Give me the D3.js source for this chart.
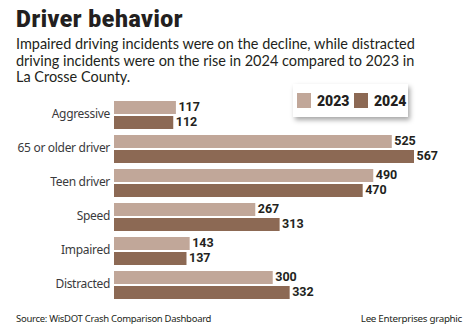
<!DOCTYPE html>
<html><head><meta charset="utf-8">
<script src="https://cdn.jsdelivr.net/npm/d3@7"></script>
<style>
body{margin:0;background:#fff;}
svg{display:block;}
</style></head>
<body>
<svg id="chart" width="471" height="330"></svg>
<script>
const categories = ["Aggressive","65 or older driver","Teen driver","Speed","Impaired","Distracted"];
const values2023 = [117,525,490,267,143,300];
const values2024 = [112,567,470,313,137,332];
const seriesNames = ["2023","2024"];
const colors = ["#c1a799","#8c6954"];

const svg = d3.select("#chart");
const ink = "#231f20";

// scale font-size of a selection so a reference node reaches target width
function fitSize(sel, refNode, target){
  const w = refNode.getComputedTextLength();
  const fs = parseFloat(d3.select(refNode).attr("font-size"));
  sel.attr("font-size", fs*target/w);
}

// Title
const title = svg.append("text").attr("x",16).attr("y",27)
  .attr("font-family","Roboto").attr("font-weight",900)
  .attr("font-size",23).attr("fill",ink).attr("letter-spacing",0)
  .text("Driver behavior");
{
  const w = title.node().getComputedTextLength();
  title.attr("letter-spacing",(167-w)/15);
}

const sub = ["Impaired driving incidents were on the decline, while distracted",
  "driving incidents were on the rise in 2024 compared to 2023 in",
  "La Crosse County."];
const subSel = svg.selectAll(".sub").data(sub).enter().append("text")
  .attr("class","sub").attr("x",16).attr("y",(d,i)=>49+i*16.7)
  .attr("font-family","Lato").attr("font-size",14).attr("fill",ink)
  .text(d=>d);
fitSize(subSel, subSel.nodes()[0], 399);

// scales
const x = d3.scaleLinear().domain([0,567]).range([114,414]);
const y = d3.scaleBand().domain(categories).range([101,305]).paddingInner(0).paddingOuter(0);
const barH = 13, gap = 2;

const g = svg.append("g");
const rows = g.selectAll(".row").data(categories).enter().append("g")
  .attr("transform",d=>`translate(0,${y(d)})`);

[values2023, values2024].forEach((vals, si)=>{
  rows.append("rect")
    .attr("x",x(0)).attr("y",si*(barH+gap))
    .attr("width",(d,i)=>x(vals[i])-x(0)).attr("height",barH)
    .attr("fill",colors[si]);
  rows.append("text")
    .attr("x",(d,i)=>x(vals[i])+2.5).attr("y",si*(barH+gap)+barH/2+0.5)
    .attr("dominant-baseline","middle")
    .attr("font-family","Liberation Sans Narrow, Roboto").attr("font-weight",700)
    .attr("font-size",12.5).attr("fill",ink)
    .text((d,i)=>vals[i]);
});

const catSel = rows.append("text")
  .attr("x",110).attr("y",barH+gap/2)
  .attr("text-anchor","end").attr("dominant-baseline","middle")
  .attr("font-family","Noto Sans").attr("font-size",13).attr("fill","#3a3a3c")
  .attr("letter-spacing",-0.3)
  .text(d=>d);
fitSize(catSel, catSel.nodes()[1], 93);

// Legend
const defs = svg.append("defs");
const f = defs.append("filter").attr("id","sh").attr("x","-20%").attr("y","-30%").attr("width","150%").attr("height","180%");
f.append("feDropShadow").attr("dx",2).attr("dy",3).attr("stdDeviation",2.5).attr("flood-color","#000").attr("flood-opacity",0.35);
const lg = svg.append("g");
lg.append("rect").attr("x",293).attr("y",84).attr("width",115).attr("height",33)
  .attr("fill","#fff").attr("filter","url(#sh)");
const lx = [297,354];
seriesNames.forEach((s,i)=>{
  lg.append("rect").attr("x",lx[i]).attr("y",93).attr("width",14).attr("height",15).attr("fill",colors[i]);
  lg.append("text").attr("x",lx[i]+20).attr("y",105.5)
    .attr("font-family","Roboto").attr("font-weight",900).attr("font-size",14)
    .attr("fill",ink).text(s);
});

// Footer
const src = svg.append("text").attr("x",16).attr("y",322)
  .attr("font-family","Noto Sans").attr("font-size",11).attr("fill",ink)
  .attr("letter-spacing",-0.3)
  .text("Source: WisDOT Crash Comparison Dashboard");
fitSize(src, src.node(), 197);
const lee = svg.append("text").attr("x",462).attr("y",322).attr("text-anchor","end")
  .attr("font-family","Noto Sans").attr("font-size",11).attr("fill",ink)
  .attr("letter-spacing",-0.3)
  .text("Lee Enterprises graphic");
fitSize(lee, lee.node(), 102);
</script>
</body></html>
